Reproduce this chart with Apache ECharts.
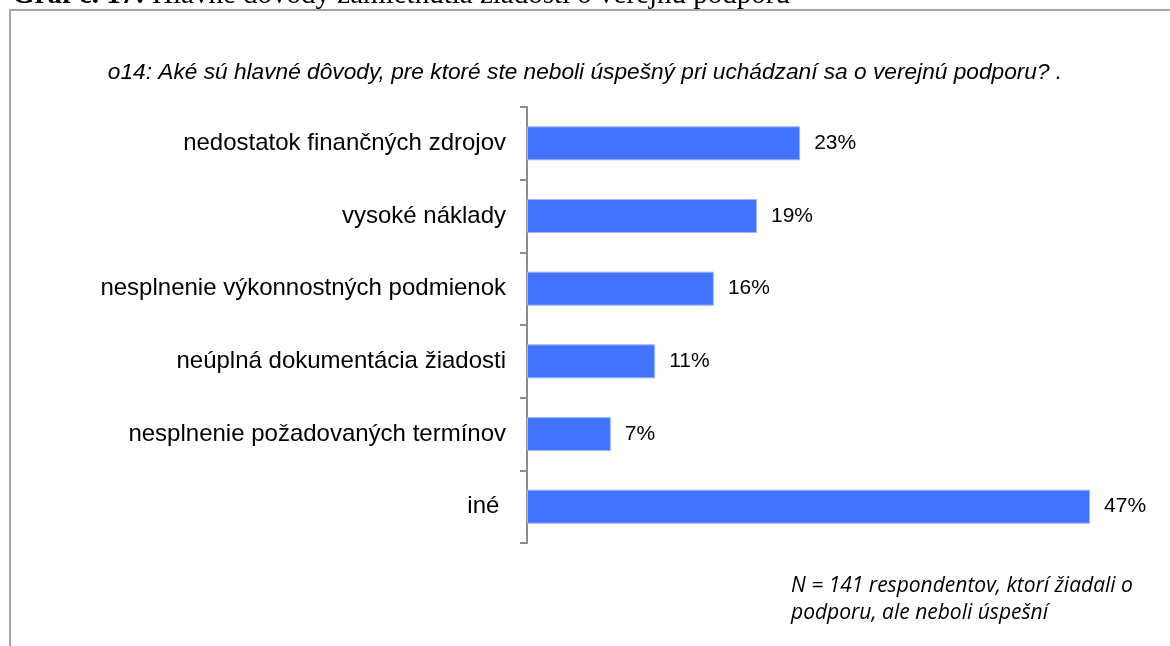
<!DOCTYPE html>
<html>
<head>
<meta charset="utf-8">
<script src="https://cdn.jsdelivr.net/npm/echarts@6/dist/echarts.min.js"></script>
<style>
  html, body { margin: 0; padding: 0; background: #fff; }
  #graf17 { width: 1170px; height: 646px; }
</style>
</head>
<body>
<div id="graf17"></div>
<script>
// dovody zamietnutia - hodnoty v %
const categories = [
  'nedostatok finančných zdrojov',
  'vysoké náklady',
  'nesplnenie výkonnostných podmienok',
  'neúplná dokumentácia žiadosti',
  'nesplnenie požadovaných termínov',
  'iné '
];
const values = [22.8, 19.2, 15.6, 10.7, 7.0, 47.0];

const headerText = 'Hlavné dôvody zamietnutia žiadosti o verejnú podporu';
const questionText = 'o14: Aké sú hlavné dôvody, pre ktoré ste neboli úspešný pri uchádzaní sa o verejnú podporu? .';
const noteLines = ['N = 141 respondentov, ktorí žiadali o', 'podporu, ale neboli úspešní'];

const chart = echarts.init(document.getElementById('graf17'));

let option = {
  backgroundColor: '#fff',
  animation: false,
  title: {
    text: questionText,
    left: 'center',
    top: 56,
    textStyle: {
      fontFamily: 'Liberation Sans, Arial, sans-serif',
      fontStyle: 'italic',
      fontWeight: 'normal',
      fontSize: 22.7,
      color: '#000'
    }
  },
  grid: { left: 527, right: 44, top: 107, bottom: 103 },
  xAxis: {
    type: 'value',
    min: 0,
    max: 50,
    show: false
  },
  yAxis: {
    type: 'category',
    data: categories,
    inverse: true,
    axisLine: { lineStyle: { color: '#8c8c8c', width: 2 } },
    axisTick: { show: true, length: 7, lineStyle: { color: '#8c8c8c', width: 2 } },
    axisLabel: {
      margin: 21,
      fontSize: 24,
      color: '#000',
      fontFamily: 'Liberation Sans, Arial, sans-serif'
    }
  },
  series: [{
    name: 'dôvody',
    type: 'bar',
    data: values,
    barWidth: 34,
    itemStyle: { color: '#4273fc', borderColor: '#9fb5ff', borderWidth: 1 },
    label: {
      show: true,
      position: 'right',
      distance: 14,
      fontSize: 21,
      color: '#000',
      fontFamily: 'Liberation Sans, Arial, sans-serif',
      formatter: p => Math.round(p.value) + '%'
    }
  }],
  graphic: [
    {
      type: 'rect',
      shape: { x: 10, y: 10, width: 1300, height: 800 },
      style: { fill: 'none', stroke: '#a6a6a6', lineWidth: 2 },
      silent: true
    },
    {
      type: 'text',
      left: 12,
      top: -19,
      style: {
        text: '{b|Graf č. 17:} ' + headerText,
        font: '29px "Liberation Serif", "Times New Roman", serif',
        fill: '#000',
        rich: {
          b: { fontWeight: 'bold', fontSize: 29, fontFamily: 'Liberation Serif' }
        }
      }
    },
    {
      type: 'text',
      left: 791,
      top: 573,
      style: {
        text: noteLines.join('\n'),
        font: 'italic 21px "Open Sans", Lato, sans-serif',
        lineHeight: 27,
        fill: '#000'
      }
    }
  ]
};

chart.setOption(option);
</script>
</body>
</html>
